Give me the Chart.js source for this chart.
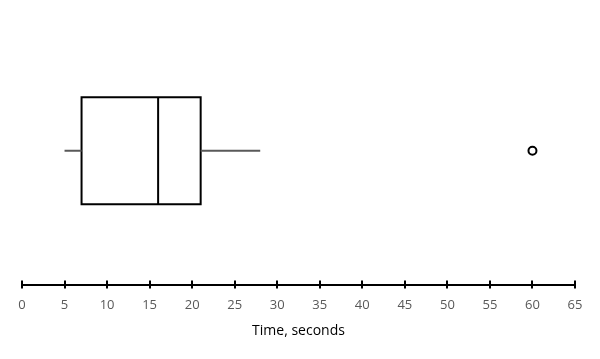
<!DOCTYPE html>
<html>
<head>
<meta charset="utf-8">
<script src="https://cdn.jsdelivr.net/npm/chart.js@4/dist/chart.umd.min.js"></script>
<style>
html,body{margin:0;padding:0;background:#fff;}
#wrap{width:600px;height:359px;position:relative;}
</style>
</head>
<body>
<div id="wrap"><canvas id="c" width="600" height="359"></canvas></div>
<script>
// Data
const categories = ['Time'];
const whiskerLow = [5];
const quartile1 = [7];
const medianVal = [16];
const quartile3 = [21];
const whiskerHigh = [28];
const outliers = [60];
const tickMin = 0, tickMax = 65, tickStep = 5;
const axisTitle = 'Time, seconds';

const H = 0.4; // box half height (style)
const yc = 0;  // category position

const boxPts = [
  {x: quartile1[0], y: yc - H}, {x: quartile3[0], y: yc - H},
  {x: quartile3[0], y: yc + H}, {x: quartile1[0], y: yc + H},
  {x: quartile1[0], y: yc - H}
];
const medPts = [{x: medianVal[0], y: yc - H}, {x: medianVal[0], y: yc + H}];
const wLowPts = [{x: whiskerLow[0], y: yc}, {x: quartile1[0], y: yc}];
const wHighPts = [{x: quartile3[0], y: yc}, {x: whiskerHigh[0], y: yc}];
const outPts = outliers.map(v => ({x: v, y: yc}));

const lineDs = (label, data, color, w) => ({
  label, data, showLine: true, borderColor: color, borderWidth: w,
  pointRadius: 0, fill: false, tension: 0,
  borderJoinStyle: 'miter', borderCapStyle: 'butt'
});

const tickUp = {
  id: 'tickUp',
  afterDraw(chart) {
    const s = chart.scales.x, ctx = chart.ctx, b = chart.chartArea.bottom;
    ctx.save();
    ctx.strokeStyle = '#000'; ctx.lineWidth = 2;
    s.ticks.forEach(t => {
      const px = Math.round(s.getPixelForValue(t.value));
      ctx.beginPath(); ctx.moveTo(px, b - 4); ctx.lineTo(px, b); ctx.stroke();
    });
    ctx.restore();
  }
};

new Chart(document.getElementById('c'), {
  type: 'scatter',
  data: {
    datasets: [
      lineDs('whiskerLow', wLowPts, '#595959', 2),
      lineDs('whiskerHigh', wHighPts, '#595959', 2),
      Object.assign(lineDs('box', boxPts, '#000', 2), {borderCapStyle: 'square'}),
      lineDs('median', medPts, '#000', 2),
      {label: 'outliers', data: outPts, pointRadius: 4, pointBorderWidth: 2,
       pointBorderColor: '#000', pointBackgroundColor: '#fff', showLine: false}
    ]
  },
  plugins: [tickUp],
  options: {
    responsive: false,
    animation: false,
    events: [],
    layout: {padding: {left: 22, right: 25, top: 17, bottom: 20}},
    plugins: {legend: {display: false}, tooltip: {enabled: false}},
    scales: {
      x: {
        type: 'linear', min: tickMin, max: tickMax,
        ticks: {stepSize: tickStep, color: '#595959', padding: 9,
                font: {family: 'Open Sans', size: 13}},
        grid: {drawOnChartArea: false, tickLength: 4, color: '#000', lineWidth: 2},
        border: {display: true, color: '#000', width: 2},
        title: {display: true, text: axisTitle, color: '#000',
                font: {family: 'Open Sans', size: 14}, padding: {top: 0, bottom: 0}}
      },
      y: {type: 'linear', min: -1, max: 1, display: false}
    }
  }
});
</script>
</body>
</html>
